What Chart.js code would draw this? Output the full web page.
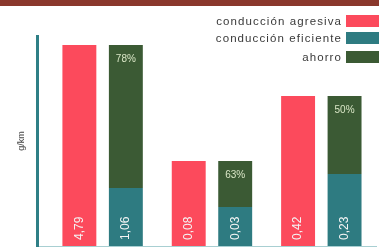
<!DOCTYPE html>
<html>
<head>
<meta charset="utf-8">
<script src="https://cdn.jsdelivr.net/npm/chart.js@4/dist/chart.umd.min.js"></script>
<style>
    html, body { margin: 0; padding: 0; background: #fff; }
    .wrap { position: relative; width: 379px; height: 247px; overflow: hidden; }
    .band { position: absolute; left: 0; top: 0; width: 379px; height: 6px; background: #8a382c; }
    .legend { position: absolute; right: 0; top: 14px; font-family: "Liberation Sans", Arial, sans-serif; font-size: 11.5px; letter-spacing: 1.1px; color: #3a3a3a; }
    .legend .row { display: flex; justify-content: flex-end; align-items: center; height: 13px; margin-bottom: 4px; }
    .legend .row:last-child { margin-top: 6px; }
    .legend .box { width: 33px; height: 12px; margin-left: 4px; }
</style>
</head>
<body>
<div class="wrap">
    <canvas id="chart" width="379" height="247"></canvas>
    <div class="band"></div>
    <div class="legend" id="legend"></div>
</div>
<script>
// three groups of bars (the original is not drawn to a common scale)
const groups = [0, 1, 2];
const seriesNames = ["conducción agresiva", "conducción eficiente", "ahorro"];
const colors = ["#fc4a5c", "#2e7b81", "#3b5a34"];

// printed values
const agresivaValues = ["4,79", "0,08", "0,42"];
const eficienteValues = ["1,06", "0,03", "0,23"];
const ahorroValues = ["78%", "63%", "50%"];

// drawn bar heights (relative units)
const agresivaHeight = [100.5, 42.5, 75];
const eficienteHeight = [29, 19.5, 36];
const ahorroHeight = [71.5, 23, 39];

document.getElementById("legend").innerHTML = seriesNames.map((name, i) =>
    `<div class="row"><span>${name}</span><span class="box" style="background:${colors[i]}"></span></div>`
).join("");

const valueLabels = {
    id: "valueLabels",
    afterDatasetsDraw(chart) {
        const ctx = chart.ctx;
        ctx.save();
        [agresivaValues, eficienteValues].forEach((vals, di) => {
            chart.getDatasetMeta(di).data.forEach((bar, i) => {
                ctx.save();
                ctx.translate(bar.x, bar.base - 6);
                ctx.rotate(-Math.PI / 2);
                ctx.font = "12px 'Liberation Sans', Arial, sans-serif";
                ctx.fillStyle = "#f4f4f4";
                ctx.textAlign = "left";
                ctx.textBaseline = "middle";
                ctx.fillText(vals[i], 0, 0);
                ctx.restore();
            });
        });
        chart.getDatasetMeta(2).data.forEach((bar, i) => {
            ctx.font = "10px 'Liberation Sans', Arial, sans-serif";
            ctx.fillStyle = "#d9e6c6";
            ctx.textAlign = "center";
            ctx.textBaseline = "middle";
            ctx.fillText(ahorroValues[i], bar.x, bar.y + 14);
        });
        ctx.restore();
    }
};

new Chart(document.getElementById("chart"), {
    type: "bar",
    data: {
        datasets: [
            { label: seriesNames[0], data: groups.map((g, i) => ({ x: g, y: agresivaHeight[i] })), backgroundColor: colors[0], stack: "a" },
            { label: seriesNames[1], data: groups.map((g, i) => ({ x: g, y: eficienteHeight[i] })), backgroundColor: colors[1], stack: "b" },
            { label: seriesNames[2], data: groups.map((g, i) => ({ x: g, y: ahorroHeight[i] })), backgroundColor: colors[2], stack: "b" }
        ]
    },
    options: {
        responsive: false,
        animation: false,
        layout: { padding: { top: 36, right: 3, bottom: 0, left: 0 } },
        categoryPercentage: 0.85,
        barPercentage: 0.73,
        plugins: { legend: { display: false }, tooltip: { enabled: false } },
        scales: {
            x: {
                type: "linear",
                offset: false,
                min: -0.6,
                max: 2.5,
                ticks: { display: false },
                grid: { display: false },
                border: { color: "#a8cfd2", width: 1 },
                afterBuildTicks: s => { s.ticks = groups.map(v => ({ value: v })); },
                afterFit: s => { s.height = 1; }
            },
            y: {
                stacked: true,
                min: 0,
                max: 105,
                ticks: { display: false },
                grid: { display: false },
                border: { color: "#2f7f86", width: 3 },
                title: { display: true, text: "g/km", color: "#444", font: { size: 9, family: "'Liberation Sans', Arial, sans-serif" }, padding: { top: 16, bottom: 0 } },
                afterFit: s => { s.width = 37; }
            }
        }
    },
    plugins: [valueLabels]
});
</script>
</body>
</html>
